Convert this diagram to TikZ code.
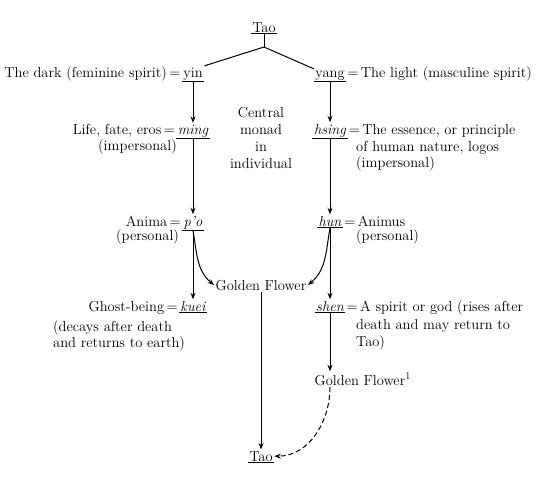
\documentclass[tikz,border=0pt]{standalone}
\usepackage{tikz}
\usetikzlibrary{arrows.meta,positioning}

\begin{document}
\begin{tikzpicture}[x=1pt,y=-1pt,
    every node/.style={font=\fontsize{14.5}{17}\selectfont},
    term/.style={inner sep=1.5pt, anchor=base},
    txt/.style={inner sep=1pt},
    arr/.style={-{Stealth[length=6.5pt,width=5pt]}, line width=1pt},
    uline/.style={line width=1pt}]
        \useasboundingbox (0,0) rectangle (542,480);
        % Columns
        \def\xl{193}
        \def\xr{330}
        \def\xm{261}
        \def\xn{355}
        % Draw the terms
        \node[term] (tao) at (264,32) {Tao};
        \node[term] (yin) at (\xl,77) {yin};
        \node[term] (yang) at (\xr,77) {yang};
        \node[term] (ming) at (\xl,134) {\itshape ming};
        \node[term] (hsing) at (\xr,134) {\itshape hsing};
        \node[term] (po) at (\xl,226) {\itshape p'o};
        \node[term] (hun) at (\xr,226) {\itshape hun};
        \node[term] (kuei) at (\xl,311) {\itshape kuei};
        \node[term] (shen) at (\xr,311) {\itshape shen};
        \node[term] (gf) at (\xm,290) {Golden Flower};
        \node[term, anchor=base west] (gf1) at (313,385) {Golden Flower\textsuperscript{1}};
        \node[term] (tao2) at (\xm,461) {Tao};
        % Underline the terms
        \foreach \n in {tao,yin,yang,ming,hsing,po,hun,kuei,shen,tao2}
            \draw[uline] (\n.south west) -- (\n.south east);
        % Label the terms
        \node[txt, anchor=base east] (yintxt) at (yin.base west) {The dark (feminine spirit)\,=};
        \node[txt, anchor=base west] (yangtxt) at (yang.base east) {=\,The light (masculine spirit)};
        \node[txt, anchor=base east] (mingtxt) at (ming.base west) {Life, fate, eros\,=};
        \node[txt, anchor=base west] (mingnote) at (97,150) {(impersonal)};
        \node[txt, anchor=base west] (hsingtxt) at (hsing.base east) {=\,The essence, or principle};
        \node[txt, anchor=base west] (hsingnote) at (\xn,151) {of human nature, logos};
        \node[txt, anchor=base west] (hsingnotb) at (\xn,167) {(impersonal)};
        \node[txt, anchor=base east] (potxt) at (po.base west) {Anima\,=};
        \node[txt, anchor=base west] (ponote) at (115,240) {(personal)};
        \node[txt, anchor=base west] (huntxt) at (hun.base east) {=\,Animus};
        \node[txt, anchor=base west] (hunnote) at (\xn,240) {(personal)};
        \node[txt, anchor=base east] (kueitxt) at (kuei.base west) {Ghost-being\,=};
        \node[txt, anchor=base west] (kueinote) at (52,331) {(decays after death};
        \node[txt, anchor=base west] (kueinotb) at (52,347) {and returns to earth)};
        \node[txt, anchor=base west] (shentxt) at (shen.base east) {=\,A spirit or god (rises after};
        \node[txt, anchor=base west] (shennote) at (\xn,329) {death and may return to};
        \node[txt, anchor=base west] (shennotb) at (\xn,346) {Tao)};
        \node[txt, align=center] (monad) at (\xm,138) {Central\\monad\\in\\individual};
        % Draw the fork
        \coordinate (fork) at (264,47);
        \draw[uline] (tao.south) -- (fork);
        \draw[uline] (fork) -- (yin.north east);
        \draw[uline] (fork) -- (yang.north west);
        % Draw the arrows
        \draw[arr] (yin.south) -- (ming.north);
        \draw[arr] (ming.south) -- (po.north);
        \draw[arr] (po.south) -- (kuei.north);
        \draw[arr] (yang.south) -- (hsing.north);
        \draw[arr] (hsing.south) -- (hun.north);
        \draw[arr] (hun.south) -- (shen.north);
        \draw[arr] (po.south) to[out=-80, in=140] (gf.west);
        \draw[arr] (hun.south) to[out=-100, in=40] (gf.east);
        \draw[arr] (gf.south) -- (tao2.north);
        \coordinate (gfin) at (shen.south |- gf1.north);
        \coordinate (gfout) at (shen.south |- gf1.south);
        \draw[arr] (shen.south) -- (gfin);
        \draw[arr, dash pattern=on 5pt off 3pt] (gfout) to[out=-90, in=0] (tao2.east);
    \end{tikzpicture}
\end{document}
